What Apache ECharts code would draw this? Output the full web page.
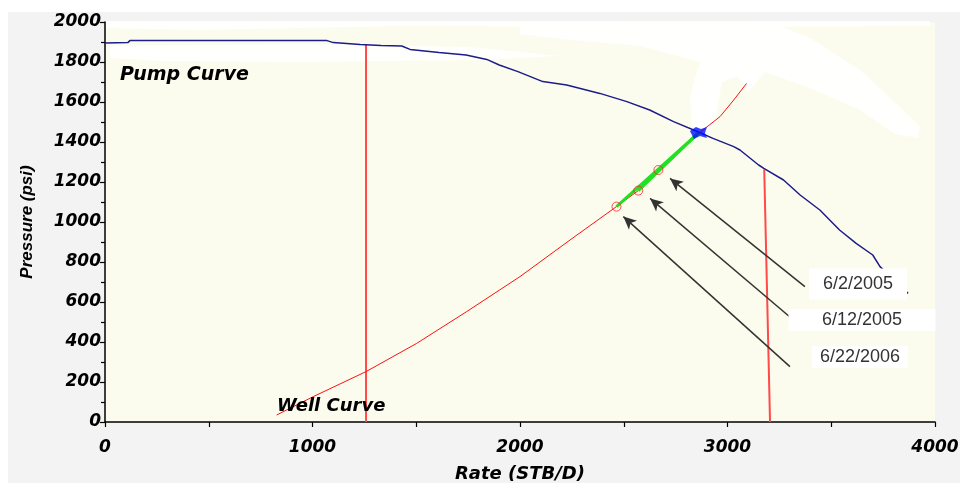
<!DOCTYPE html>
<html>
<head>
<meta charset="utf-8">
<script src="https://cdn.jsdelivr.net/npm/echarts@6/dist/echarts.min.js"></script>
<style>
html,body{margin:0;padding:0;background:#ffffff;}
#c{width:960px;height:483px;}
</style>
</head>
<body>
<div id="c"></div>
<script>
// ---- data ----
var xTicks = [0, 1000, 2000, 3000, 4000];
var yTicks = [0, 200, 400, 600, 800, 1000, 1200, 1400, 1600, 1800, 2000];

var pumpRate = [0, 110, 120, 1070, 1100, 1230, 1330, 1430, 1470, 1610, 1740, 1840, 1900, 1990, 2110, 2225, 2385, 2515, 2625, 2740, 2860, 2930, 3030, 3060, 3150, 3175, 3270, 3350, 3445, 3540, 3620, 3700, 3735, 3870];
var pumpP    = [1895, 1897, 1907, 1907, 1897, 1888, 1882, 1880, 1863, 1847, 1835, 1813, 1785, 1752, 1702, 1685, 1643, 1602, 1560, 1502, 1450, 1418, 1377, 1360, 1285, 1268, 1210, 1135, 1060, 960, 893, 835, 777, 643];

var wellRate = [827, 1004, 1258, 1502, 1743, 2000, 2241, 2465, 2570, 2667, 2760, 2882, 2964, 3030, 3092];
var wellP    = [35, 127, 252, 393, 552, 727, 910, 1077, 1157, 1260, 1350, 1460, 1527, 1610, 1693];

var testRate = [2465, 2570, 2667];
var testP    = [1077, 1157, 1260];

var opRate = 2860;
var opP = 1445;

var vLine1Rate = [1258, 1258];
var vLine1P    = [1885, 0];
var vLine2Rate = [3177, 3205];
var vLine2P    = [1263, 0];

var arrowTailRate = [3373, 3318, 3301];
var arrowTailP    = [677, 510, 277];
var arrowTipRate  = [2723, 2627, 2498];
var arrowTipP     = [1218, 1118, 1027];

var dateLabels = ['6/2/2005', '6/12/2005', '6/22/2006'];
var dateLabelRate = [3629, 3648, 3639];
var dateLabelP    = [690, 510, 325];
var dateBoxW = [98, 147, 96];
var dateBoxH = [31, 22, 22];

// ---- build ----
function zip(a, b) { return a.map(function (v, i) { return [v, b[i]]; }); }

var series = [];
series.push({
  type: 'line', data: zip(vLine1Rate, vLine1P), symbol: 'none', z: 3,
  lineStyle: { color: '#ff4a4a', width: 2 }, silent: true, animation: false
});
series.push({
  type: 'line', data: zip(vLine2Rate, vLine2P), symbol: 'none', z: 3,
  lineStyle: { color: '#ff4a4a', width: 2 }, silent: true, animation: false
});
series.push({
  type: 'line', data: zip(pumpRate, pumpP), symbol: 'none', z: 4,
  lineStyle: { color: '#1c1c8a', width: 1.5 }, animation: false
});
series.push({
  type: 'line', data: zip(wellRate, wellP), symbol: 'none', z: 4,
  lineStyle: { color: '#ff1010', width: 1 }, animation: false
});
testRate.forEach(function (r, i) {
  series.push({
    type: 'line', data: [[r, testP[i]], [opRate, opP]], symbol: 'none', z: 5,
    lineStyle: { color: '#22e022', width: 3 }, animation: false
  });
});
series.push({
  type: 'scatter', data: zip(testRate, testP), symbol: 'circle', symbolSize: 9, z: 6,
  itemStyle: { color: 'rgba(0,0,0,0)', borderColor: '#ff2020', borderWidth: 1 }, animation: false
});
series.push({
  type: 'scatter', data: [[opRate, opP]], z: 7,
  symbol: 'path://M0,4 L6,0 L11,2 L17,0 L15,6 L17,11 L10,9 L4,12 Z',
  symbolSize: [17, 12],
  itemStyle: { color: '#0010ff' }, animation: false
});
// arrows
var arrowData = arrowTailRate.map(function (r, i) {
  return [
    { coord: [r, arrowTailP[i]], symbol: 'none' },
    { coord: [arrowTipRate[i], arrowTipP[i]], symbol: 'arrow', symbolSize: [9, 13] }
  ];
});
series.push({
  type: 'line', data: [], z: 8,
  markLine: {
    silent: true, animation: false,
    label: { show: false },
    lineStyle: { color: '#333333', width: 1.5, type: 'solid' },
    data: arrowData
  }
});

var axisFont = { fontFamily: 'DejaVu Sans', fontWeight: 'bold', fontStyle: 'oblique', fontSize: 17, color: '#000' };

var chart = echarts.init(document.getElementById('c'), null, { renderer: 'canvas' });
var option = {
  backgroundColor: '#f3f3f3',
  animation: false,
  grid: { left: 105, right: 25, top: 22, bottom: 61, show: true, backgroundColor: '#fcfcee', borderWidth: 0,
          containLabel: false, outerBoundsMode: 'none' },
  xAxis: {
    type: 'value', min: 0, max: 4000, interval: 500,
    name: 'Rate (STB/D)', nameLocation: 'middle', nameGap: 43,
    nameTextStyle: { fontFamily: 'DejaVu Sans', fontWeight: 'bold', fontStyle: 'oblique', fontSize: 18, color: '#000' },
    axisLine: { lineStyle: { color: '#000', width: 1.5 } },
    axisTick: { length: 5, lineStyle: { color: '#000', width: 1.2 } },
    axisLabel: Object.assign({ margin: 17, formatter: function (v) { return xTicks.indexOf(v) >= 0 ? String(v) : ''; } }, axisFont),
    splitLine: { show: false }
  },
  yAxis: {
    type: 'value', min: 0, max: 2000, interval: 200,
    name: 'Pressure (psi)', nameLocation: 'middle', nameGap: 69,
    nameTextStyle: { fontFamily: 'Liberation Sans', fontWeight: 'bold', fontStyle: 'italic', fontSize: 17, color: '#000' },
    axisLine: { lineStyle: { color: '#000', width: 1.5 } },
    axisTick: { length: 5, lineStyle: { color: '#000', width: 1.2 } },
    minorTick: { show: true, splitNumber: 2, length: 4, lineStyle: { color: '#000', width: 1.2 } },
    axisLabel: Object.assign({ margin: 4, formatter: function (v) { return yTicks.indexOf(v) >= 0 ? String(v) : ''; } }, axisFont),
    splitLine: { show: false }
  },
  series: series
};
chart.setOption(option);

// decorations: page frame, smudges, curve names, date boxes
var g = [];
g.push({ type: 'rect', shape: { x: 0, y: 0, width: 960, height: 12 }, style: { fill: '#ffffff' }, z: 0, silent: true });
g.push({ type: 'rect', shape: { x: 0, y: 0, width: 8, height: 483 }, style: { fill: '#ffffff' }, z: 0, silent: true });
// white smudges (scan artefacts)
g.push({ type: 'polygon', z: 1, silent: true,
  shape: { points: [[106, 21], [930, 21], [930, 26], [700, 27], [400, 26], [200, 30], [106, 28]] },
  style: { fill: 'rgba(255,255,255,0.85)' } });
g.push({ type: 'polygon', z: 1, silent: true,
  shape: { points: [[110, 46], [300, 44], [470, 47], [560, 56], [480, 60], [300, 62], [160, 61], [110, 58]] },
  style: { fill: 'rgba(255,255,255,0.85)' } });
g.push({ type: 'polygon', z: 1, silent: true,
  shape: { points: [[520, 24], [770, 22], [810, 38], [860, 70], [905, 112], [920, 126], [918, 138], [895, 134], [860, 110], [810, 88], [765, 72], [748, 92], [738, 76], [722, 82], [714, 128], [692, 130], [690, 96], [700, 62], [640, 46], [570, 40], [520, 34]] },
  style: { fill: 'rgba(255,255,255,0.85)' } });

g.push({ type: 'text', z: 20, silent: true, style: { x: 120, y: 75, text: 'Pump Curve', fill: '#000', font: 'oblique bold 19px "DejaVu Sans"', textVerticalAlign: 'middle' } });
g.push({ type: 'text', z: 20, silent: true, style: { x: 277, y: 406, text: 'Well Curve', fill: '#000', font: 'oblique bold 18px "DejaVu Sans"', textVerticalAlign: 'middle' } });

dateLabels.forEach(function (t, i) {
  var p = chart.convertToPixel({ gridIndex: 0 }, [dateLabelRate[i], dateLabelP[i]]);
  g.push({ type: 'rect', z: 20, silent: true,
    shape: { x: p[0] - dateBoxW[i] / 2, y: p[1] - dateBoxH[i] / 2, width: dateBoxW[i], height: dateBoxH[i] },
    style: { fill: '#ffffff' } });
  g.push({ type: 'text', z: 21, silent: true,
    style: { x: p[0], y: p[1], text: t, fill: '#333', font: '18px "Liberation Sans"', textAlign: 'center', textVerticalAlign: 'middle' } });
});
chart.setOption({ graphic: { elements: g } });
</script>
</body>
</html>
